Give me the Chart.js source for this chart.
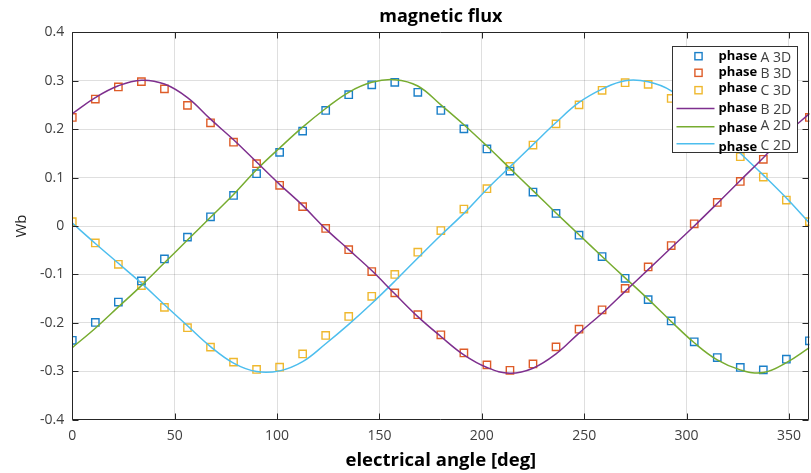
<!DOCTYPE html>
<html>
<head>
<meta charset="utf-8">
<title>magnetic flux</title>
<script src="https://cdn.jsdelivr.net/npm/chart.js@4.4.1/dist/chart.umd.min.js"></script>
<style>
    html, body { margin: 0; padding: 0; background: #fff; overflow: hidden; }
    #wrap { position: relative; width: 816px; height: 473px; }
    #chart-flux { display: block; }
</style>
</head>
<body>
<div id="wrap"><canvas id="chart-flux" width="816" height="473"></canvas></div>
<script>
// ── Data ──────────────────────────────────────────────────
const ANGLES = [0, 11.25, 22.5, 33.75, 45, 56.25, 67.5, 78.75, 90, 101.25, 112.5, 123.75,
    135, 146.25, 157.5, 168.75, 180, 191.25, 202.5, 213.75, 225, 236.25, 247.5, 258.75,
    270, 281.25, 292.5, 303.75, 315, 326.25, 337.5, 348.75, 360];

const PHASE_A_3D = [-0.236, -0.199, -0.157, -0.1135, -0.068, -0.023, 0.019, 0.063, 0.108, 0.152, 0.196, 0.2385,
    0.271, 0.2915, 0.2965, 0.276, 0.2385, 0.2005, 0.159, 0.1135, 0.070, 0.026, -0.019, -0.063,
    -0.108, -0.152, -0.196, -0.239, -0.2716, -0.292, -0.297, -0.275, -0.237];
const PHASE_B_3D = [0.224, 0.262, 0.287, 0.298, 0.283, 0.249, 0.213, 0.173, 0.1285, 0.084, 0.040, -0.005,
    -0.049, -0.094, -0.138, -0.183, -0.2246, -0.262, -0.2867, -0.2978, -0.2847, -0.2495, -0.213, -0.173,
    -0.1287, -0.0845, -0.0404, 0.0046, 0.0487, 0.092, 0.1377, 0.181, 0.224];
const PHASE_C_3D = [0.009, -0.035, -0.079, -0.123, -0.168, -0.210, -0.250, -0.281, -0.296, -0.2915, -0.264, -0.226,
    -0.1867, -0.145, -0.100, -0.054, -0.0093, 0.035, 0.077, 0.123, 0.167, 0.2108, 0.250, 0.280,
    0.2957, 0.2923, 0.2633, 0.226, 0.187, 0.143, 0.101, 0.0535, 0.009];

const PHASE_A_2D = [-0.251, -0.211, -0.167, -0.123, -0.076, -0.029, 0.018, 0.065, 0.116, 0.161, 0.204, 0.2425,
    0.276, 0.2965, 0.302, 0.289, 0.250, 0.209, 0.165, 0.119, 0.073, 0.027, -0.018, -0.063,
    -0.107, -0.151, -0.197, -0.241, -0.2765, -0.297, -0.3025, -0.282, -0.251];
const PHASE_B_2D = [0.232, 0.265, 0.2895, 0.301, 0.293, 0.265, 0.2205, 0.178, 0.132, 0.086, 0.0425, -0.006,
    -0.0487, -0.092, -0.140, -0.187, -0.228, -0.266, -0.292, -0.304, -0.2935, -0.264, -0.221, -0.180,
    -0.135, -0.090, -0.045, 0.000, 0.0466, 0.094, 0.141, 0.19, 0.232];
const PHASE_C_2D = [0.006, -0.036, -0.077, -0.118, -0.1625, -0.206, -0.249, -0.283, -0.3005, -0.299, -0.280, -0.243,
    -0.203, -0.160, -0.114, -0.066, -0.019, 0.026, 0.076, 0.122, 0.168, 0.2135, 0.255, 0.2826,
    0.300, 0.2977, 0.279, 0.237, 0.196, 0.150, 0.105, 0.0576, 0.006];

const X_TICKS = [0, 50, 100, 150, 200, 250, 300, 350];
const Y_TICKS = [-0.4, -0.3, -0.2, -0.1, 0, 0.1, 0.2, 0.3, 0.4];
const Y_TICK_LABELS = ['-0.4', '-0.3', '-0.2', '-0.1', '0', '0.1', '0.2', '0.3', '0.4'];

// ── Style ─────────────────────────────────────────────────
const FONT = '"Open Sans", "Noto Sans", sans-serif';
const AXIS_COLOR = '#262626';
const GRID_COLOR = 'rgba(38,38,38,0.15)';
const C_BLUE = '#1a7fc8', C_ORANGE = '#de5c28', C_YELLOW = '#efb82e';
const C_PURPLE = '#7E2F8E', C_GREEN = '#77AC30', C_CYAN = '#4DBEEE';

const pts = vals => ANGLES.map((a, i) => ({ x: a, y: vals[i] }));

const lineSet = (label, vals, color) => ({
    label, data: pts(vals), showLine: true, borderColor: color, borderWidth: 1.5,
    pointRadius: 0, tension: 0.4, fill: false
});
const markerSet = (label, vals, color) => ({
    label, data: pts(vals), showLine: false, pointStyle: 'rect',
    pointRadius: 5.2, pointBorderWidth: 1.4, pointBorderColor: color,
    pointBackgroundColor: 'rgba(0,0,0,0)', borderColor: color
});

// legend rows: [kind, color, text, markerY, phaseBaseline, labelBaseline] (offsets from box top)
const LEGEND_ROWS = [
    ['marker', C_BLUE, 'A 3D', 9.7, 13.7, 15.7],
    ['marker', C_ORANGE, 'B 3D', 26.3, 29, 31],
    ['marker', C_YELLOW, 'C 3D', 43.7, 45.7, 48.3],
    ['line', C_PURPLE, 'B 2D', 62, 65.7, 67],
    ['line', C_GREEN, 'A 2D', 80.3, 85.7, 83],
    ['line', C_CYAN, 'C 2D', 97.3, 104, 103]
];

// Box + inward tick marks, like a matlab axes
const axesBox = {
    id: 'axesBox',
    afterDatasetsDraw(chart) {
        const { ctx, chartArea: a, scales: { x, y } } = chart;
        const L = Math.round(a.left) + 0.5, R = Math.round(a.right) - 0.5;
        const T = Math.round(a.top) + 0.5, B = Math.round(a.bottom) - 0.5;
        ctx.save();
        ctx.strokeStyle = AXIS_COLOR;
        ctx.lineWidth = 1;
        ctx.beginPath();
        ctx.rect(L, T, R - L, B - T);
        X_TICKS.forEach(v => {
            const px = Math.round(x.getPixelForValue(v)) + 0.5;
            ctx.moveTo(px, B); ctx.lineTo(px, B - 6);
            ctx.moveTo(px, T); ctx.lineTo(px, T + 6);
        });
        Y_TICKS.forEach(v => {
            const py = Math.round(y.getPixelForValue(v)) + 0.5;
            ctx.moveTo(L, py); ctx.lineTo(L + 6, py);
            ctx.moveTo(R, py); ctx.lineTo(R - 6, py);
        });
        ctx.stroke();
        ctx.restore();
    }
};

const boxLegend = {
    id: 'boxLegend',
    afterDraw(chart) {
        const { ctx, chartArea: a } = chart;
        const w = 125, h = 106;
        const left = Math.round(a.right - 12.5 - w) + 0.5;
        const top = Math.round(a.top + 14) + 0.5;
        ctx.save();
        ctx.fillStyle = '#fff';
        ctx.strokeStyle = '#333';
        ctx.lineWidth = 1;
        ctx.fillRect(left, top, w, h);
        ctx.strokeRect(left, top, w, h);
        LEGEND_ROWS.forEach(([kind, color, text, my, pb, lb]) => {
            ctx.strokeStyle = color;
            if (kind === 'marker') {
                ctx.lineWidth = 1.4;
                ctx.strokeRect(left + 26 - 3.6, top + my - 3.6, 7.2, 7.2);
            } else {
                ctx.lineWidth = 1.5;
                ctx.beginPath();
                ctx.moveTo(left + 4, top + my);
                ctx.lineTo(left + 42, top + my);
                ctx.stroke();
            }
            ctx.textBaseline = 'alphabetic';
            ctx.textAlign = 'left';
            ctx.fillStyle = '#000';
            ctx.font = `bold 13px ${FONT}`;
            ctx.fillText('phase', left + 46, top + pb);
            ctx.fillStyle = '#404040';
            ctx.font = `14px ${FONT}`;
            ctx.fillText(text, left + 88, top + lb);
        });
        ctx.restore();
    }
};

new Chart(document.getElementById('chart-flux').getContext('2d'), {
    type: 'scatter',
    data: {
        datasets: [
            lineSet('phase B 2D', PHASE_B_2D, C_PURPLE),
            lineSet('phase A 2D', PHASE_A_2D, C_GREEN),
            lineSet('phase C 2D', PHASE_C_2D, C_CYAN),
            markerSet('phase A 3D', PHASE_A_3D, C_BLUE),
            markerSet('phase B 3D', PHASE_B_3D, C_ORANGE),
            markerSet('phase C 3D', PHASE_C_3D, C_YELLOW)
        ]
    },
    options: {
        responsive: false,
        animation: false,
        layout: { padding: { left: 0, right: 0.3, top: 0, bottom: 0 } },
        plugins: {
            legend: { display: false },
            tooltip: { enabled: false },
            title: {
                display: true,
                text: 'magnetic flux',
                fullSize: false,
                color: '#000',
                font: { family: FONT, size: 18, weight: 'bold', lineHeight: 1.2 },
                padding: { top: 6, bottom: 4.6 }
            }
        },
        scales: {
            x: {
                type: 'linear', min: 0, max: 360,
                afterBuildTicks: s => { s.ticks = X_TICKS.map(v => ({ value: v })); },
                afterFit: s => { s.height = 53.2; s.paddingLeft = 0; s.paddingRight = 0; },
                ticks: { color: '#404040', font: { family: FONT, size: 14 }, padding: 8, maxRotation: 0 },
                grid: { color: GRID_COLOR, drawTicks: false },
                border: { display: false },
                title: {
                    display: true, text: 'electrical angle [deg]', color: '#000',
                    font: { family: FONT, size: 18.5, weight: 'bold', lineHeight: 1.2 },
                    padding: { top: 0, bottom: 1 }
                }
            },
            y: {
                type: 'linear', min: -0.4, max: 0.4,
                afterBuildTicks: s => { s.ticks = Y_TICKS.map(v => ({ value: v })); },
                afterFit: s => { s.width = 72.3; s.paddingTop = 0; s.paddingBottom = 0; },
                ticks: {
                    color: '#404040', font: { family: FONT, size: 14 }, padding: 8,
                    callback: v => Y_TICK_LABELS[Y_TICKS.findIndex(t => Math.abs(t - v) < 1e-9)]
                },
                grid: { color: GRID_COLOR, drawTicks: false },
                border: { display: false },
                title: {
                    display: true, text: 'Wb', color: '#262626',
                    font: { family: FONT, size: 15, lineHeight: 1.2 },
                    padding: { top: 13, bottom: 0 }
                }
            }
        }
    },
    plugins: [axesBox, boxLegend]
});
</script>
</body>
</html>
